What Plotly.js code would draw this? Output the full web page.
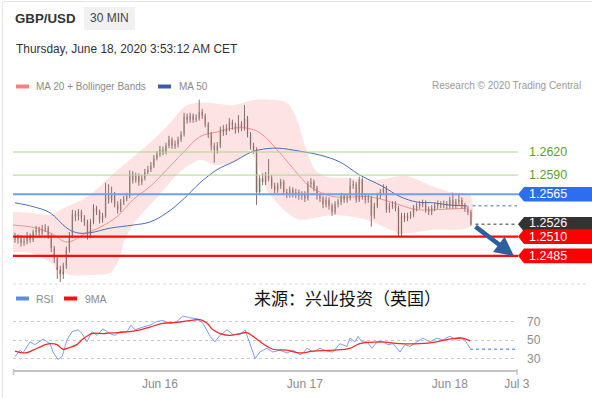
<!DOCTYPE html>
<html><head><meta charset="utf-8">
<script src="https://cdn.plot.ly/plotly-3.0.1.min.js"></script>
<style>html,body{margin:0;padding:0;background:#fff;} #chart{width:592px;height:398px;}</style>
</head><body><div id="chart"></div>
<script>
// ---- 30-min GBP/USD bars (index 0 = Jun 15 00:00) ----
const openP = [1.2511,1.2506,1.2508,1.2502,1.2504,1.2511,1.2506,1.2516,1.2519,1.2515,
1.2520,1.2521,1.2511,1.2495,1.2482,1.2467,1.2461,1.2472,1.2493,1.2511,
1.2539,1.2536,1.2542,1.2534,1.2529,1.2511,1.2529,1.2547,1.2542,1.2532,
1.2537,1.2563,1.2558,1.2565,1.2552,1.2545,1.2555,1.2559,1.2563,1.2591,
1.2584,1.2589,1.2581,1.2586,1.2594,1.2597,1.2602,1.2612,1.2617,1.2623,
1.2620,1.2628,1.2636,1.2628,1.2630,1.2636,1.2643,1.2666,1.2662,1.2667,
1.2662,1.2664,1.2672,1.2667,1.2656,1.2643,1.2628,1.2623,1.2628,1.2649,
1.2646,1.2651,1.2659,1.2654,1.2649,1.2656,1.2651,1.2664,1.2643,1.2628,
1.2623,1.2568,1.2586,1.2581,1.2589,1.2586,1.2576,1.2571,1.2576,1.2581,
1.2568,1.2565,1.2571,1.2565,1.2568,1.2563,1.2565,1.2560,1.2578,1.2581,
1.2573,1.2563,1.2560,1.2552,1.2558,1.2550,1.2542,1.2552,1.2555,1.2563,
1.2558,1.2560,1.2576,1.2578,1.2558,1.2584,1.2563,1.2558,1.2560,1.2537,
1.2550,1.2563,1.2568,1.2573,1.2545,1.2550,1.2552,1.2547,1.2513,1.2537,
1.2534,1.2537,1.2539,1.2547,1.2550,1.2552,1.2554,1.2545,1.2542,1.2547,
1.2550,1.2552,1.2551,1.2552,1.2550,1.2558,1.2550,1.2555,1.2558,1.2550,
1.2546,1.2542];
const highP = [1.2515,1.2513,1.2512,1.2509,1.2516,1.2514,1.2519,1.2524,1.2523,1.2525,
1.2526,1.2524,1.2514,1.2498,1.2486,1.2472,1.2476,1.2497,1.2516,1.2545,
1.2544,1.2546,1.2545,1.2538,1.2532,1.2533,1.2552,1.2550,1.2545,1.2541,
1.2580,1.2578,1.2575,1.2568,1.2556,1.2559,1.2563,1.2567,1.2596,1.2595,
1.2593,1.2592,1.2590,1.2598,1.2602,1.2607,1.2616,1.2621,1.2628,1.2627,
1.2632,1.2641,1.2639,1.2635,1.2640,1.2647,1.2671,1.2670,1.2671,1.2670,
1.2669,1.2688,1.2676,1.2670,1.2659,1.2646,1.2632,1.2633,1.2653,1.2655,
1.2656,1.2664,1.2662,1.2658,1.2668,1.2660,1.2681,1.2667,1.2646,1.2632,
1.2626,1.2590,1.2592,1.2594,1.2611,1.2590,1.2580,1.2580,1.2585,1.2584,
1.2572,1.2575,1.2574,1.2572,1.2571,1.2569,1.2569,1.2582,1.2586,1.2584,
1.2576,1.2566,1.2563,1.2562,1.2561,1.2553,1.2556,1.2559,1.2567,1.2566,
1.2565,1.2586,1.2583,1.2581,1.2588,1.2587,1.2566,1.2565,1.2563,1.2554,
1.2567,1.2572,1.2578,1.2576,1.2554,1.2556,1.2556,1.2550,1.2541,1.2541,
1.2541,1.2543,1.2551,1.2554,1.2556,1.2558,1.2557,1.2549,1.2551,1.2554,
1.2557,1.2556,1.2557,1.2556,1.2562,1.2567,1.2559,1.2566,1.2561,1.2554,
1.2550,1.2545];
const lowP = [1.2502,1.2501,1.2497,1.2498,1.2500,1.2502,1.2503,1.2512,1.2511,1.2512,
1.2516,1.2507,1.2490,1.2476,1.2455,1.2451,1.2455,1.2468,1.2489,1.2508,
1.2530,1.2531,1.2529,1.2524,1.2506,1.2508,1.2526,1.2538,1.2527,1.2528,
1.2534,1.2553,1.2554,1.2548,1.2540,1.2542,1.2551,1.2556,1.2560,1.2579,
1.2580,1.2576,1.2577,1.2583,1.2591,1.2594,1.2599,1.2609,1.2614,1.2616,
1.2617,1.2625,1.2624,1.2624,1.2626,1.2633,1.2640,1.2657,1.2658,1.2658,
1.2659,1.2661,1.2663,1.2652,1.2638,1.2622,1.2606,1.2618,1.2625,1.2641,
1.2642,1.2647,1.2649,1.2644,1.2645,1.2647,1.2648,1.2639,1.2623,1.2618,
1.2551,1.2564,1.2577,1.2577,1.2582,1.2572,1.2566,1.2567,1.2572,1.2564,
1.2560,1.2561,1.2561,1.2560,1.2558,1.2558,1.2555,1.2557,1.2574,1.2569,
1.2558,1.2555,1.2547,1.2548,1.2545,1.2537,1.2539,1.2548,1.2551,1.2554,
1.2554,1.2557,1.2572,1.2554,1.2555,1.2558,1.2553,1.2554,1.2523,1.2533,
1.2547,1.2559,1.2565,1.2541,1.2541,1.2546,1.2543,1.2510,1.2510,1.2529,
1.2530,1.2533,1.2535,1.2543,1.2546,1.2548,1.2541,1.2538,1.2538,1.2543,
1.2546,1.2547,1.2547,1.2546,1.2546,1.2546,1.2546,1.2551,1.2546,1.2542,
1.2538,1.2524];
const closeP = [1.2506,1.2508,1.2502,1.2504,1.2511,1.2506,1.2516,1.2519,1.2515,1.2520,
1.2521,1.2511,1.2495,1.2482,1.2467,1.2461,1.2472,1.2493,1.2511,1.2539,
1.2536,1.2542,1.2534,1.2529,1.2511,1.2529,1.2547,1.2542,1.2532,1.2537,
1.2563,1.2558,1.2565,1.2552,1.2545,1.2555,1.2559,1.2563,1.2591,1.2584,
1.2589,1.2581,1.2586,1.2594,1.2597,1.2602,1.2612,1.2617,1.2623,1.2620,
1.2628,1.2636,1.2628,1.2630,1.2636,1.2643,1.2666,1.2662,1.2667,1.2662,
1.2664,1.2672,1.2667,1.2656,1.2643,1.2628,1.2623,1.2628,1.2649,1.2646,
1.2651,1.2659,1.2654,1.2649,1.2656,1.2651,1.2664,1.2643,1.2628,1.2623,
1.2568,1.2586,1.2581,1.2589,1.2586,1.2576,1.2571,1.2576,1.2581,1.2568,
1.2565,1.2571,1.2565,1.2568,1.2563,1.2565,1.2560,1.2578,1.2581,1.2573,
1.2563,1.2560,1.2552,1.2558,1.2550,1.2542,1.2552,1.2555,1.2563,1.2558,
1.2560,1.2576,1.2578,1.2558,1.2584,1.2563,1.2558,1.2560,1.2537,1.2550,
1.2563,1.2568,1.2573,1.2545,1.2550,1.2552,1.2547,1.2513,1.2537,1.2534,
1.2537,1.2539,1.2547,1.2550,1.2552,1.2554,1.2545,1.2542,1.2547,1.2550,
1.2552,1.2551,1.2552,1.2550,1.2558,1.2550,1.2555,1.2558,1.2550,1.2546,
1.2542,1.2526];
const barIdx = closeP.map((_, i) => i);

// ---- Bollinger bands / moving averages (bar index, price) ----
const bbUpperX = [-0.7,5,11.6,13.9,17.2,23.2,28.1,31.5,38.1,44.7,50.3,57,63.6,72.2,80.1,90.1,93.4,96,99.3,102.6,110.9,120.9,129.1,138.4,144,150.7];
const bbUpperY = [1.2542,1.2541,1.2538,1.2542,1.2549,1.2560,1.2575,1.2588,1.2610,1.2632,1.2653,1.2681,1.2684,1.2681,1.2688,1.2684,1.2662,1.2629,1.2597,1.2588,1.2586,1.2584,1.2589,1.2575,1.2568,1.2564];
const bbLowerX = [-0.7,5,11.6,14.9,18.2,24.8,31.5,34.1,36.4,39.7,44.7,49.7,54.6,61.3,66.2,72.2,77.8,80.5,83.4,90.1,94.4,105.3,116.6,127.5,138.4,150.7];
const bbLowerY = [1.2490,1.2489,1.2477,1.2467,1.2460,1.2460,1.2463,1.2477,1.2506,1.2529,1.2551,1.2573,1.2594,1.2610,1.2603,1.2606,1.2619,1.2603,1.2571,1.2541,1.2532,1.2538,1.2532,1.2515,1.2519,1.2523];
const ma20X = [-0.7,6,11.6,17.2,23.8,28.1,33.8,39.1,44.7,50.3,55.6,61.3,66.9,72.2,76.8,81.1,86.8,94.4,97.7,105.3,116.6,121.9,127.5,133.1,138.4,149.7];
const ma20Y = [1.2525,1.2522,1.2515,1.2503,1.2515,1.2522,1.2536,1.2558,1.2575,1.2597,1.2619,1.2640,1.2646,1.2651,1.2651,1.2645,1.2623,1.2588,1.2575,1.2562,1.2562,1.2558,1.2551,1.2545,1.2545,1.2547];
const ma50X = [0,6,11.6,17.2,20.5,24.8,31.5,39.1,44.7,50.3,55.6,61.3,66.9,72.2,77.8,81.1,86.8,94.4,101,107.6,114.2,121.9,127.5,133.1,138.4,144,149.7];
const ma50Y = [1.2554,1.2549,1.2541,1.2521,1.2515,1.2515,1.2521,1.2525,1.2529,1.2541,1.2558,1.2580,1.2597,1.2607,1.2619,1.2623,1.2625,1.2621,1.2616,1.2607,1.2590,1.2575,1.2562,1.2555,1.2554,1.2551,1.2550];

// ---- RSI panel ----
const rsiX = [0,1.66,2.65,5,6.6,9.3,11.6,12.6,14.2,15.6,17.2,18.9,20.9,22.2,23.8,25.5,27.2,29.1,31.5,33.1,34.8,37.1,38.4,39.7,42.4,44.7,47,49,51.3,53.6,55.6,57.9,60.3,62.3,64.6,66.2,67.9,70.2,72.2,74.5,76.2,77.8,79.5,81.1,83.4,85.4,87.7,90.1,92.1,94.4,95.4,96.7,98.7,101,103.3,105.3,107.6,109.9,110.9,112.6,113.6,114.9,116.6,118.2,119.9,121.9,123.5,125.2,127.5,129.1,130.8,133.1,135.1,137.4,139.7,141.7,144,145.7,147.4,149,150.7];
const rsiY = [32,39,36,48,45,51,46,37,29,32,50,59,61,57,48,59,55,62,57,55,59,59,66,61,64,66,70,71,68,70,76,74,73,68,54,48,55,61,56,56,61,46,30,37,41,37,39,36,39,34,36,41,37,41,38,37,46,43,52,48,54,48,48,41,48,48,45,46,37,45,43,48,52,48,52,50,54,51,52,50,41];
const ma9X = [0,3.3,6,9.3,11.6,13.9,15.9,18.2,20.5,22.5,25.5,29.8,33.8,38.1,41.4,44.7,49,53.6,57.9,61.3,63.6,65.6,67.9,71.2,74.5,76.8,78.8,82.1,85.4,90.1,94.4,98.7,105.3,110.9,114.2,120.9,127.5,134.1,139.7,144,148.3,150.7];
const ma9Y = [38,36,39,44,46,45,40,42,45,51,57,57,58,59,61,64,68,69,71,72,68,61,57,55,57,58,54,46,40,39,36,38,39,41,46,48,46,46,48,51,52,49];
const rsiLast = 40;

// ---- axis ticks and levels ----
const tickVals = [48, 96, 144, 166.2];
const tickText = ['Jun 16', 'Jun 17', 'Jun 18', 'Jul 3'];
const resistLevels = [1.2620, 1.2590];
const pivotLevel = 1.2565;
const lastPrice = 1.2526;
const supportLevels = [1.2510, 1.2485];
const ma50Last = 1.2550;
const rsiTicks = [30, 50, 70];

const W = 592, H = 398;
const px = v => v / W, py = v => 1 - v / H;
const X0 = px(13), X1 = px(518);
const xEnd = 166.25;
const PPX = 0.00013; // price per pixel in the main panel

// wicks
const wx = [], wy = [];
barIdx.forEach(i => { wx.push(i, i, null); wy.push(lowP[i], highP[i], null); });

const traces = [
  {x: bbUpperX.concat(bbLowerX.slice().reverse()), y: bbUpperY.concat(bbLowerY.slice().reverse()),
   type:'scatter', mode:'lines', fill:'toself', fillcolor:'rgba(252,208,208,0.6)', line:{width:0, shape:'spline', smoothing:0.8}, hoverinfo:'skip', xaxis:'x', yaxis:'y'},
  {x: ma20X, y: ma20Y, type:'scatter', mode:'lines', line:{color:'#f59090', width:1, shape:'spline'}, hoverinfo:'skip', xaxis:'x', yaxis:'y'},
  {x: ma50X, y: ma50Y, type:'scatter', mode:'lines', line:{color:'#4a6fb5', width:1, shape:'spline'}, hoverinfo:'skip', xaxis:'x', yaxis:'y'},
  {x: [151.5, xEnd], y: [ma50Last, ma50Last], type:'scatter', mode:'lines', line:{color:'#7f9fd0', width:1.5, dash:'dot'}, hoverinfo:'skip', xaxis:'x', yaxis:'y'},
  {x: [152.5, xEnd], y: [lastPrice, lastPrice], type:'scatter', mode:'lines', line:{color:'#777', width:1.5, dash:'dot'}, hoverinfo:'skip', xaxis:'x', yaxis:'y'},
  {x: wx, y: wy, type:'scatter', mode:'lines', line:{color:'#857070', width:1}, hoverinfo:'skip', xaxis:'x', yaxis:'y'},
  {type:'candlestick', x: barIdx, open: openP, high: highP, low: lowP, close: closeP,
   increasing:{line:{color:'#3a8a2c', width:0}, fillcolor:'#3a8a2c'},
   decreasing:{line:{color:'#e21c1c', width:0}, fillcolor:'#e21c1c'},
   whiskerwidth:0, hoverinfo:'skip', xaxis:'x', yaxis:'y'},
  {x: rsiX, y: rsiY, type:'scatter', mode:'lines', line:{color:'#7b9ff0', width:1}, hoverinfo:'skip', xaxis:'x2', yaxis:'y2'},
  {x: ma9X, y: ma9Y, type:'scatter', mode:'lines', line:{color:'#f02a2a', width:1.3, shape:'spline'}, hoverinfo:'skip', xaxis:'x2', yaxis:'y2'},
  {x: [150.7, xEnd], y: [rsiLast, rsiLast], type:'scatter', mode:'lines', line:{color:'#7b9ff0', width:1.5, dash:'dot'}, hoverinfo:'skip', xaxis:'x2', yaxis:'y2'}
];

const shapes = [];
const annotations = [];
const hh = 7.3 * PPX;
// card borders
shapes.push({type:'line', xref:'paper', yref:'paper', x0:px(2.5), x1:px(2.5), y0:py(1.5), y1:py(398), line:{color:'#e4e4e4', width:1}});
shapes.push({type:'line', xref:'paper', yref:'paper', x0:px(2.5), x1:1, y0:py(1.5), y1:py(1.5), line:{color:'#e4e4e4', width:1}});
// 30 MIN box
shapes.push({type:'rect', xref:'paper', yref:'paper', x0:px(84), x1:px(135), y0:py(30), y1:py(7), fillcolor:'#f1f1f1', line:{width:0}, layer:'below'});
// main panel bottom dotted line
shapes.push({type:'line', xref:'paper', yref:'paper', x0:px(13), x1:px(586), y0:py(284), y1:py(284), line:{color:'#d8d8d8', width:1, dash:'dot'}});
// legend swatches
shapes.push({type:'rect', xref:'paper', yref:'paper', x0:px(16), x1:px(29), y0:py(88.5), y1:py(84.5), fillcolor:'#f98080', line:{width:0}});
shapes.push({type:'rect', xref:'paper', yref:'paper', x0:px(158), x1:px(171), y0:py(88.5), y1:py(84.5), fillcolor:'#3a5fa8', line:{width:0}});
shapes.push({type:'rect', xref:'paper', yref:'paper', x0:px(16), x1:px(29), y0:py(300.5), y1:py(296.5), fillcolor:'#5f8ae6', line:{width:0}});
shapes.push({type:'rect', xref:'paper', yref:'paper', x0:px(64), x1:px(77), y0:py(300.5), y1:py(296.5), fillcolor:'#f21010', line:{width:0}});
// axis end caps
shapes.push({type:'line', xref:'paper', yref:'paper', x0:px(13.5), x1:px(13.5), y0:py(369), y1:py(375), line:{color:'#c4c4c4', width:1.5}});
shapes.push({type:'line', xref:'paper', yref:'paper', x0:px(517), x1:px(517), y0:py(369), y1:py(375), line:{color:'#c4c4c4', width:1.5}});
// level lines
resistLevels.forEach(v => {
  shapes.push({type:'line', xref:'paper', yref:'y', x0:X0, x1:X1, y0:v, y1:v, line:{color:'#a9d88a', width:1}, layer:'above'});
  annotations.push({xref:'paper', yref:'y', x:px(527), y:v, xanchor:'left', yanchor:'middle', text:v.toFixed(4), showarrow:false, font:{size:12.5, color:'#5e9f26'}});
});
shapes.push({type:'line', xref:'paper', yref:'y', x0:X0, x1:X1, y0:pivotLevel, y1:pivotLevel, line:{color:'#6f9ff0', width:2}, layer:'above'});
supportLevels.forEach(v => {
  shapes.push({type:'line', xref:'paper', yref:'y', x0:X0, x1:X1, y0:v, y1:v, line:{color:'#ff0a0a', width:2.4}, layer:'above'});
});
// price tags
const tag = (v, color, nudgePx) => {
  shapes.push({type:'path', xref:'paper', yref:'y', layer:'above', fillcolor:color, line:{width:0},
    path:`M ${px(518)},${v} L ${px(524)},${v + hh} L 1,${v + hh} L 1,${v - hh} L ${px(524)},${v - hh} Z`});
  annotations.push({xref:'paper', yref:'y', x:px(527), y:v + nudgePx * PPX, xanchor:'left', yanchor:'middle', text:v.toFixed(4), showarrow:false, font:{size:12.5, color:'#ffffff'}});
};
tag(pivotLevel, '#2b6ef0', 0);
tag(lastPrice, '#333333', 1.5);
tag(supportLevels[0], '#ff0000', -0.5);
tag(supportLevels[1], '#ff0000', 0);

// header texts
const F = 'Liberation Sans, Arial, sans-serif';
annotations.push({xref:'paper', yref:'paper', x:px(13), y:py(18.5), xanchor:'left', yanchor:'middle', showarrow:false, text:'<b>GBP/USD</b>', font:{family:F, size:13.3, color:'#333'}});
annotations.push({xref:'paper', yref:'paper', x:px(109.5), y:py(18.5), xanchor:'center', yanchor:'middle', showarrow:false, text:'30 MIN', font:{family:F, size:12, color:'#444'}});
annotations.push({xref:'paper', yref:'paper', x:px(14), y:py(48.5), xanchor:'left', yanchor:'middle', showarrow:false, text:'Thursday, June 18, 2020 3:53:12 AM CET', font:{family:F, size:11.9, color:'#333'}});
annotations.push({xref:'paper', yref:'paper', x:px(34), y:py(86.5), xanchor:'left', yanchor:'middle', showarrow:false, text:'MA 20 + Bollinger Bands', font:{family:F, size:10, color:'#8a8a8a'}});
annotations.push({xref:'paper', yref:'paper', x:px(177), y:py(86.5), xanchor:'left', yanchor:'middle', showarrow:false, text:'MA 50', font:{family:F, size:10, color:'#8a8a8a'}});
annotations.push({xref:'paper', yref:'paper', x:px(583), y:py(86), xanchor:'right', yanchor:'middle', showarrow:false, text:'Research © 2020 Trading Central', font:{family:F, size:10, color:'#9a9a9a'}});
annotations.push({xref:'paper', yref:'paper', x:px(34), y:py(298.5), xanchor:'left', yanchor:'middle', showarrow:false, text:'RSI', font:{family:F, size:10.5, color:'#8a8a8a'}});
annotations.push({xref:'paper', yref:'paper', x:px(83), y:py(298.5), xanchor:'left', yanchor:'middle', showarrow:false, text:'9MA', font:{family:F, size:10.5, color:'#8a8a8a'}});
annotations.push({xref:'paper', yref:'paper', x:px(252), y:py(297.5), xanchor:'left', yanchor:'middle', showarrow:false, text:'来源：兴业投资（英国）', font:{family:'Noto Sans CJK SC, sans-serif', size:17, color:'#111'}});
// forecast arrow
annotations.push({xref:'paper', yref:'paper', x:px(514), y:py(256), axref:'paper', ayref:'paper', ax:px(474), ay:py(225.5),
  showarrow:true, arrowhead:2, arrowsize:0.85, arrowwidth:4.5, arrowcolor:'#2f5e9e', text:''});

const layout = {
  width: W, height: H, margin:{l:0, r:0, t:0, b:0}, paper_bgcolor:'#ffffff', plot_bgcolor:'rgba(0,0,0,0)',
  showlegend:false, font:{family:F},
  xaxis:{domain:[px(13), px(517)], range:[-0.66, xEnd], visible:false, rangeslider:{visible:false}, anchor:'y', fixedrange:true},
  yaxis:{domain:[py(285), py(95)], range:[1.24471, 1.26941], visible:false, anchor:'x', fixedrange:true},
  xaxis2:{domain:[px(13), px(517)], range:[-0.66, xEnd], anchor:'y2', showline:true, linecolor:'#c4c4c4', linewidth:2,
    tickmode:'array', tickvals:tickVals, ticktext:tickText, ticks:'', showgrid:false, zeroline:false, ticklabelstandoff:2,
    tickfont:{family:F, size:12, color:'#8c8c8c'}, rangeslider:{visible:false}},
  yaxis2:{domain:[py(369.5), py(310)], range:[18.11, 82.43], anchor:'x2', side:'right', tickmode:'array', tickvals:rsiTicks,
    showgrid:true, gridcolor:'#c8c8c8', griddash:'dot', gridwidth:1, zeroline:false, showline:false, ticks:'',
    ticklabelstandoff:9, tickfont:{family:F, size:12, color:'#8c8c8c'}},
  shapes: shapes, annotations: annotations
};
Plotly.newPlot('chart', traces, layout, {displayModeBar:false, staticPlot:true});
</script></body></html>
